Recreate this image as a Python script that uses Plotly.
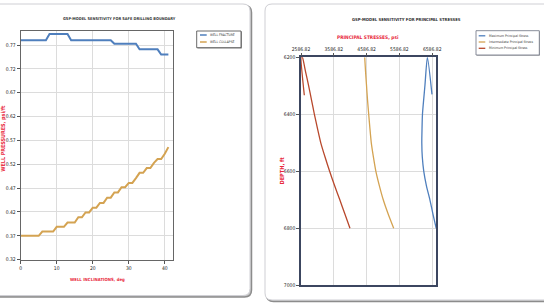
import plotly.graph_objects as go

# ---------------- data ----------------
INCLINATION = [0, 1, 2, 3, 4, 5, 6, 7, 8, 9, 10, 11, 12, 13, 14, 15, 16, 17, 18, 19, 20,
               21, 22, 23, 24, 25, 26, 27, 28, 29, 30, 31, 32, 33, 34, 35, 36, 37, 38, 39, 40, 41]
WELL_FRACTURE = [0.780, 0.780, 0.780, 0.780, 0.780, 0.780, 0.780, 0.780, 0.793, 0.793, 0.793,
                 0.793, 0.793, 0.793, 0.780, 0.780, 0.780, 0.780, 0.780, 0.780, 0.780, 0.780,
                 0.780, 0.780, 0.780, 0.780, 0.7725, 0.7725, 0.7725, 0.7725, 0.7725, 0.7725,
                 0.7725, 0.761, 0.761, 0.761, 0.761, 0.761, 0.761, 0.750, 0.750, 0.750]
WELL_COLLAPSE = [0.370, 0.370, 0.370, 0.370, 0.370, 0.370, 0.379, 0.379, 0.379, 0.379, 0.389,
                 0.389, 0.389, 0.398, 0.398, 0.398, 0.409, 0.409, 0.419, 0.419, 0.429, 0.429,
                 0.439, 0.439, 0.450, 0.450, 0.461, 0.461, 0.472, 0.472, 0.481, 0.481, 0.491,
                 0.502, 0.502, 0.512, 0.512, 0.523, 0.531, 0.531, 0.542, 0.556]
LEFT_YTICKS = [0.32, 0.37, 0.42, 0.47, 0.52, 0.57, 0.62, 0.67, 0.72, 0.77]
LEFT_XTICKS = [0, 10, 20, 30, 40]

MAX_DEPTH = [6330, 6200, 6300, 6400, 6455, 6500, 6550, 6600, 6650, 6700, 6750, 6800]
MAX_STRESS = [6580, 6440, 6365, 6290, 6276, 6270, 6285, 6330, 6410, 6517, 6610, 6710]
INT_DEPTH = [6200, 6250, 6300, 6350, 6400, 6450, 6500, 6550, 6600, 6650, 6700, 6750, 6800]
INT_STRESS = [4529, 4555, 4585, 4615, 4651, 4688, 4730, 4795, 4870, 4975, 5095, 5245, 5413]
MIN_DEPTH = [6333, 6200, 6200, 6250, 6300, 6350, 6400, 6450, 6500, 6550, 6600, 6650, 6700, 6750, 6800]
MIN_STRESS = [2688, 2590, 2630, 2725, 2820, 2908, 2995, 3090, 3190, 3320, 3460, 3610, 3770, 3925, 4080]
PSI_TICKS = [2586.82, 3586.82, 4586.82, 5586.82, 6586.82]
DEPTH_TICKS = [6200, 6400, 6600, 6800, 7000]

# ---------------- helpers ----------------
W, H = 544, 306
def X(p): return p / W
def Y(p): return 1 - p / H

FONT = "Liberation Sans Narrow, Arial Narrow, DejaVu Sans Condensed, sans-serif"
RED = "#e8283c"
BLUE = "#4f7fbd"
TAN = "#d4a352"
BROWN = "#b8482c"
GRID = "#dcdcdc"

fig = go.Figure()

fig.add_trace(go.Scatter(x=INCLINATION, y=WELL_FRACTURE, mode="lines", name="WELL FRACTURE",
                         line=dict(color=BLUE, width=2), xaxis="x", yaxis="y"))
fig.add_trace(go.Scatter(x=INCLINATION, y=WELL_COLLAPSE, mode="lines", name="WELL COLLAPSE",
                         line=dict(color=TAN, width=2), xaxis="x", yaxis="y"))

fig.add_trace(go.Scatter(x=MAX_STRESS, y=MAX_DEPTH, mode="lines", name="Maximum Principal Stress",
                         line=dict(color=BLUE, width=1.3, shape="spline", smoothing=0.6),
                         xaxis="x2", yaxis="y2"))
fig.add_trace(go.Scatter(x=INT_STRESS, y=INT_DEPTH, mode="lines", name="Intermediate Principal Stress",
                         line=dict(color=TAN, width=1.3, shape="spline", smoothing=0.6),
                         xaxis="x2", yaxis="y2"))
fig.add_trace(go.Scatter(x=MIN_STRESS, y=MIN_DEPTH, mode="lines", name="Minimum Principal Stress",
                         line=dict(color=BROWN, width=1.3, shape="spline", smoothing=0.4),
                         xaxis="x2", yaxis="y2"))

tickfont = dict(family=FONT, size=5, color="#222")
common = dict(showgrid=True, gridcolor=GRID, gridwidth=1, zeroline=False, automargin=False,
              ticks="outside", ticklen=3, tickcolor="#555", tickfont=tickfont, showline=True, mirror=True)

fig.update_layout(
    width=W, height=H, margin=dict(l=0, r=0, t=0, b=0, autoexpand=False),
    paper_bgcolor="white", plot_bgcolor="white", showlegend=False,
    xaxis=dict(domain=[X(20.7), X(172.7)], range=[0, 42.2], tickvals=LEFT_XTICKS,
               linecolor="#666", linewidth=1, anchor="y", **common),
    yaxis=dict(domain=[Y(259.7), Y(30.7)], range=[0.32, 0.80], tickvals=LEFT_YTICKS,
               ticktext=[f"{v:.2f}" for v in LEFT_YTICKS],
               linecolor="#666", linewidth=1, anchor="x", **common),
    xaxis2=dict(domain=[X(301), X(436.3)], range=[2586.82, 6712], tickvals=PSI_TICKS,
                ticktext=[f"{v:.2f}" for v in PSI_TICKS], side="top",
                linecolor="#3c4660", linewidth=1.5, anchor="y2", **common),
    yaxis2=dict(domain=[Y(285.3), Y(57.3)], range=[7000, 6200], tickvals=DEPTH_TICKS,
                linecolor="#3c4660", linewidth=1.5, anchor="x2", **common),
)

# ---------------- panels (rounded cards with shadow) ----------------
def rounded(x0, y0, x1, y1, r):
    return (f"M {X(x0 + r)},{Y(y0)} L {X(x1 - r)},{Y(y0)} Q {X(x1)},{Y(y0)} {X(x1)},{Y(y0 + r)} "
            f"L {X(x1)},{Y(y1 - r)} Q {X(x1)},{Y(y1)} {X(x1 - r)},{Y(y1)} "
            f"L {X(x0 + r)},{Y(y1)} Q {X(x0)},{Y(y1)} {X(x0)},{Y(y1 - r)} "
            f"L {X(x0)},{Y(y0 + r)} Q {X(x0)},{Y(y0)} {X(x0 + r)},{Y(y0)} Z")

shapes = []
for (x0, y0, x1, y1) in [(-8, 4, 250, 295.5), (265, 4, 560, 300)]:
    shapes.append(dict(type="path", path=rounded(x0 + 1.5, y0 + 1.5, x1 + 1.5, y1 + 1.5, 7),
                       xref="paper", yref="paper", fillcolor="#c4c4c4",
                       line=dict(color="#8c8c8c", width=1.5), layer="below"))
    shapes.append(dict(type="path", path=rounded(x0, y0, x1, y1, 7), xref="paper", yref="paper",
                       fillcolor="white", line=dict(color="#cfcfd4", width=1), layer="below"))

# legends (drawn as small boxes)
shapes.append(dict(type="rect", xref="paper", yref="paper", x0=X(197.5), x1=X(242), y0=Y(48.5), y1=Y(31.5),
                   fillcolor="#9a9a9a", line=dict(width=0), layer="above"))
shapes.append(dict(type="rect", xref="paper", yref="paper", x0=X(196.7), x1=X(241), y0=Y(47.7), y1=Y(31),
                   fillcolor="white", line=dict(color="#444", width=0.8), layer="above"))
shapes.append(dict(type="rect", xref="paper", yref="paper", x0=X(476.8), x1=X(540), y0=Y(55.8), y1=Y(31.5),
                   fillcolor="#b0b0b0", line=dict(width=0), layer="above"))
shapes.append(dict(type="rect", xref="paper", yref="paper", x0=X(476), x1=X(539.3), y0=Y(55), y1=Y(30.7),
                   fillcolor="white", line=dict(color="#6a7080", width=0.8), layer="above"))

annotations = []
left_leg = [("WELL FRACTURE", BLUE, 35.0), ("WELL COLLAPSE", TAN, 42.0)]
for name, col, yy in left_leg:
    shapes.append(dict(type="line", xref="paper", yref="paper", x0=X(200), x1=X(206.7), y0=Y(yy), y1=Y(yy),
                       line=dict(color=col, width=1.5), layer="above"))
    annotations.append(dict(text=name, x=X(208), y=Y(yy), xref="paper", yref="paper", xanchor="left",
                            yanchor="middle", showarrow=False, font=dict(family=FONT, size=3.3, color="#333")))
right_leg = [("Maximum Principal Stress", BLUE, 35.8), ("Intermediate Principal Stress", TAN, 42.0),
             ("Minimum Principal Stress", BROWN, 48.3)]
for name, col, yy in right_leg:
    shapes.append(dict(type="line", xref="paper", yref="paper", x0=X(478.7), x1=X(485.3), y0=Y(yy), y1=Y(yy),
                       line=dict(color=col, width=1.3), layer="above"))
    annotations.append(dict(text=name, x=X(486.5), y=Y(yy), xref="paper", yref="paper", xanchor="left",
                            yanchor="middle", showarrow=False, font=dict(family=FONT, size=3.4, color="#333")))

def ann(text, x, y, size, color, bold=True, angle=0):
    annotations.append(dict(text=f"<b>{text}</b>" if bold else text, x=X(x), y=Y(y), xref="paper",
                            yref="paper", xanchor="center", yanchor="middle", showarrow=False,
                            textangle=angle, font=dict(family=FONT, size=size, color=color)))

ann("GSP-MODEL SENSITIVITY FOR SAFE DRILLING BOUNDARY", 119, 18.5, 3.9, "#333")
ann("WELL INCLINATIONS, deg", 97, 279, 4.3, RED)
ann("WELL PRESSURES, psi/ft", 3.8, 138, 5.4, RED, angle=-90)
ann("GSP-MODEL SENSITIVITY FOR PRINCIPAL STRESSES", 406, 19, 4.2, "#333")
ann("PRINCIPAL STRESSES, psi", 368, 37.8, 4.8, RED)
ann("DEPTH, ft", 281.5, 171, 5.6, RED, angle=-90)

fig.update_layout(shapes=shapes, annotations=annotations)
fig.write_html("out.html")
